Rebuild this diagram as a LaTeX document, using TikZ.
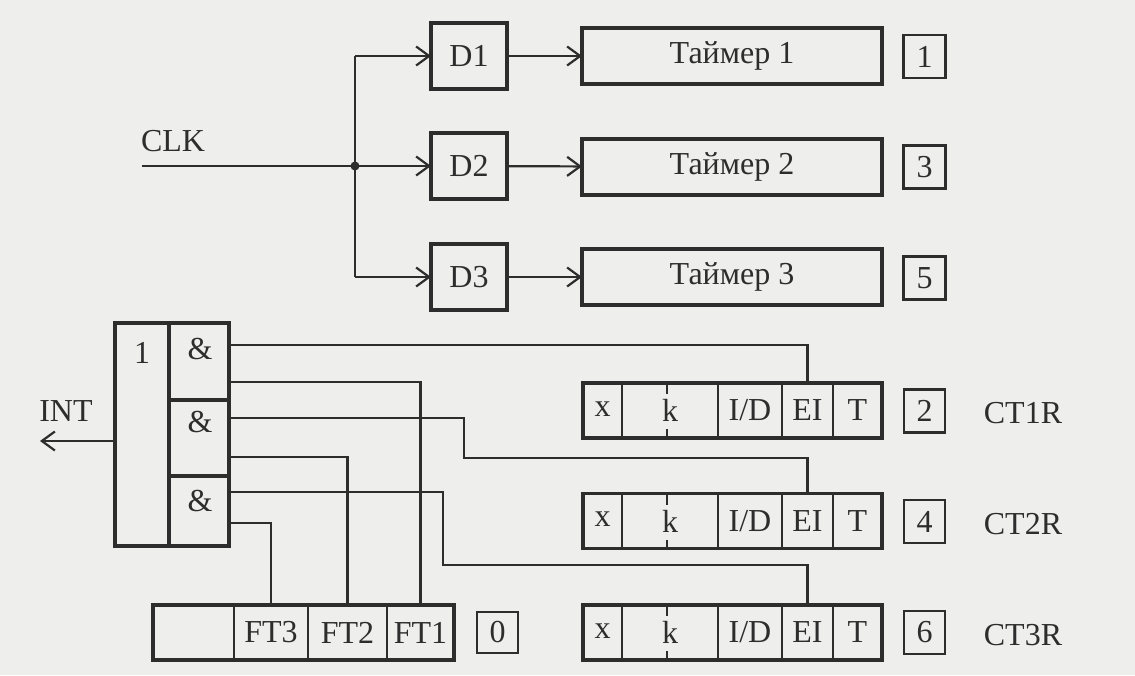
\documentclass[tikz,border=0pt]{standalone}
\usepackage{fontspec}
\setmainfont{Liberation Serif}
\usetikzlibrary{arrows.meta}
\definecolor{ink}{RGB}{45,45,45}
\definecolor{paper}{RGB}{238,238,236}
\tikzset{
  txt/.style={font=\fontsize{32}{36}\selectfont, text=ink, inner sep=0pt},
  heavy/.style={draw=ink, line width=3.3pt, inner sep=0pt, outer sep=0pt, txt},
  light/.style={draw=ink, line width=2.2pt, inner sep=0pt, outer sep=0pt, txt},
  cell/.style={draw=ink, line width=2pt, inner sep=0pt, outer sep=0pt, txt},
  wire/.style={draw=ink, line width=2.2pt},
  arr/.style={wire, -{Straight Barb[length=13pt,width=19pt,line width=2.2pt]}},
  dbox/.style={heavy, minimum width=76pt, minimum height=66pt},
  tbox/.style={heavy, minimum width=300pt, minimum height=56pt},
  nbox/.style={light, minimum width=42pt, minimum height=43pt},
}
\begin{document}
\begin{tikzpicture}[x=1pt,y=-1pt]
\fill[paper] (0,0) rectangle (1135,675);
\useasboundingbox (0,0) rectangle (1135,675);

% ---- top: dividers and timers
\node[dbox] (D1) at (469,56) {D1};
\node[dbox] (D2) at (469,166) {D2};
\node[dbox] (D3) at (469,277) {D3};
\node[tbox] (T1) at (732,56) {Таймер 1};
\node[tbox] (T2) at (732,167) {Таймер 2};
\node[tbox] (T3) at (732,277) {Таймер 3};
\node[nbox] (n1) at (924.5,56.5) {1};
\node[nbox] (n3) at (924.5,167) {3};
\node[nbox] (n5) at (924.5,278) {5};

\node[txt] (clklab) at (173,141) {CLK};
\coordinate (clk) at (142,166);
\coordinate (bus1) at (355,56);
\coordinate (bus2) at (355,166);
\coordinate (bus3) at (355,277);
\draw[wire] (bus1) -- (bus3);
\draw[arr] (clk) -- (D2.west);
\draw[arr] (bus1) -- (D1.west);
\draw[arr] (bus3) -- (D3.west);
\fill[ink] (bus2) circle (4.5pt);
\draw[arr] (D1) -- (T1);
\draw[arr] (D2) -- (T2);
\draw[arr] (D3) -- (T3);

% ---- interrupt logic
\node[heavy, minimum width=54pt, minimum height=223pt] (orgate) at (142,434.5) {};
\node[txt] (orlab) at (142,353) {1};
\node[heavy, minimum width=60pt, minimum height=77pt] (and1) at (199,361.5) {};
\node[heavy, minimum width=60pt, minimum height=76pt] (and2) at (199,438) {};
\node[heavy, minimum width=60pt, minimum height=70pt] (and3) at (199,511) {};
\node[txt] (al1) at (200,349) {\&};
\node[txt] (al2) at (200,422) {\&};
\node[txt] (al3) at (200,501) {\&};
\node[txt] (intlab) at (66,411) {INT};
\coordinate (intout) at (40,441);
\draw[arr] (orgate.west |- intout) -- (intout);

% ---- counter registers
\foreach \r/\y in {1/410.5, 2/521, 3/632.5}{
  \node[cell, minimum width=39pt, minimum height=55pt] (c\r x) at (602.5,\y) {\raisebox{3pt}{x}};
  \node[cell, minimum width=96pt, minimum height=55pt] (c\r k) at (670,\y) {k};
  \node[cell, minimum width=64pt, minimum height=55pt] (c\r id) at (750,\y) {I/D};
  \node[cell, minimum width=51pt, minimum height=55pt] (c\r ei) at (807.5,\y) {EI};
  \node[cell, minimum width=49pt, minimum height=55pt] (c\r t) at (857.5,\y) {T};
  \node[heavy, minimum width=299pt, minimum height=55pt] (ct\r) at (732.5,\y) {};
  \draw[ink, line width=1.8pt] (c\r k.north) ++(-3,0) -- ++(0,11);
  \draw[ink, line width=1.8pt] (c\r k.south) ++(-3,0) -- ++(0,-9);
}
\node[nbox, minimum width=41pt] (n2) at (924.5,411) {2};
\node[nbox, minimum width=41pt] (n4) at (924.5,521.5) {4};
\node[nbox, minimum width=41pt] (n6) at (924.5,632.5) {6};
\node[txt] (ct1lab) at (1023,413) {CT1R};
\node[txt] (ct2lab) at (1023,524) {CT2R};
\node[txt] (ct3lab) at (1023,635) {CT3R};

% ---- flag register
\node[cell, minimum width=81pt, minimum height=55pt] (ft0) at (193.5,632.5) {};
\node[cell, minimum width=74pt, minimum height=55pt] (ft3) at (271,632.5) {FT3};
\node[cell, minimum width=79pt, minimum height=55pt] (ft2) at (347.5,632.5) {FT2};
\node[cell, minimum width=67pt, minimum height=55pt] (ft1) at (420.5,632.5) {FT1};
\node[heavy, minimum width=301pt, minimum height=55pt] (ftreg) at (303.5,632.5) {};
\node[nbox, minimum width=41pt, minimum height=41pt] (n0) at (497.5,632.5) {0};

% ---- wiring from the AND gates
\coordinate (o1) at (229,345);
\coordinate (o2) at (229,382);
\coordinate (o3) at (229,418);
\coordinate (o4) at (229,457);
\coordinate (o5) at (229,492);
\coordinate (o6) at (229,523);
\draw[wire] (o1) -| (c1ei.north);
\draw[wire] (o2) -| (ft1.north);
\draw[wire] (o3) -- (464,418) -- (464,458) -| (c2ei.north);
\draw[wire] (o4) -| (ft2.north);
\draw[wire] (o5) -- (443,492) -- (443,565) -| (c3ei.north);
\draw[wire] (o6) -| (ft3.north);
\end{tikzpicture}
\end{document}
